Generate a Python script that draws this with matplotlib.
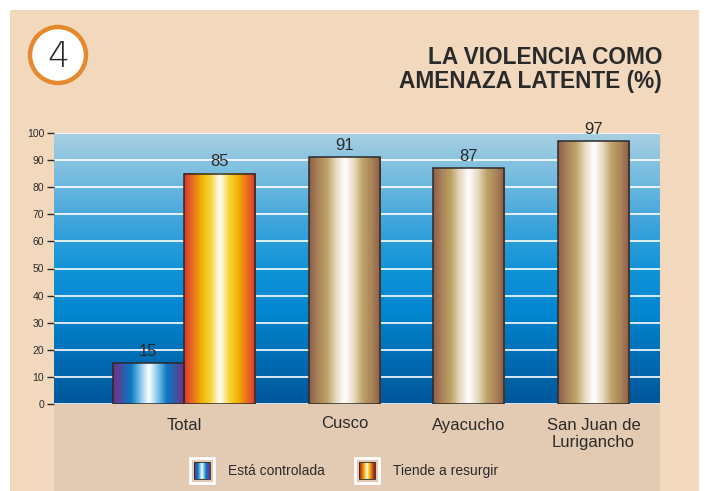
import numpy as np
import matplotlib
matplotlib.use("Agg")
import matplotlib.pyplot as plt
from matplotlib.colors import LinearSegmentedColormap
from matplotlib.patches import Rectangle, Circle

plt.rcParams["font.family"] = ["Liberation Sans", "DejaVu Sans"]

# ---- data --------------------------------------------------------------------
categories = ["Total", "Cusco", "Ayacucho", "San Juan de\nLurigancho"]
controlada = [15]                 # only for Total
resurgir = [85, 91, 87, 97]
legend_labels = ["Está controlada", "Tiende a resurgir"]
title = "LA VIOLENCIA COMO\nAMENAZA LATENTE (%)"
badge = "4"

# ---- palette -----------------------------------------------------------------
PANEL = "#f2d9be"
BAND = "#e3cbb3"
INK = "#2a2a2a"
RING = "#e5892f"

def cmap(name, cols):
    return LinearSegmentedColormap.from_list(name, cols)

BLUE_BAR = cmap("blue", ["#7b2b7e", "#3a55a4", "#0a78c2", "#7cc4ea", "#ffffff",
                         "#7cc4ea", "#0a78c2", "#3a55a4", "#7b2b7e"])
ORANGE_BAR = cmap("orange", ["#d7372f", "#e8701f", "#f2b400", "#f7d640", "#ffffff",
                             "#f7d640", "#f2b400", "#e8701f", "#d7372f"])
BROWN_BAR = cmap("brown", ["#8d5c47", "#a98459", "#bfa266", "#e6dbc2", "#ffffff",
                           "#e6dbc2", "#bfa266", "#a98459", "#8d5c47"])
ORANGE_ICON = cmap("oicon", ["#7a1a12", "#e0581c", "#f2b400", "#ffffff",
                             "#f2b400", "#e0581c", "#7a1a12"])
SKY = cmap("sky", ["#00569a", "#006db4", "#0286d0", "#1193d7", "#3ea4db",
                   "#74bbe0", "#a8cfe2"])

W, H, DPI = 705, 491, 100
fig = plt.figure(figsize=(W / DPI, H / DPI), dpi=DPI)
fig.patch.set_facecolor("white")

# pixel-coordinate backdrop (y down)
bg = fig.add_axes([0, 0, 1, 1], zorder=0)
bg.set_xlim(0, W); bg.set_ylim(H, 0); bg.axis("off")
bg.add_patch(Rectangle((10, 10), 689, H - 10, facecolor=PANEL, edgecolor="none"))
bg.add_patch(Rectangle((54, 404), 606, H - 404, facecolor=BAND, edgecolor="none"))
bg.add_patch(Circle((58, 55), 28, facecolor="white", edgecolor=RING, lw=3.2))
bg.text(58, 57, badge, ha="center", va="center", fontsize=25, color=INK,
        family="DejaVu Sans", fontweight="light")
bg.text(662, 69.5, title, ha="right", va="center", fontsize=16.3,
        fontweight="bold", color=INK, linespacing=1.08)

# ---- main plot ---------------------------------------------------------------
L, R, T, B = 54, 660, 133, 404
ax = fig.add_axes([L / W, 1 - B / H, (R - L) / W, (B - T) / H], zorder=1)

group_x = np.array([0.5, 2.76, 4.51, 6.27])
xlim = (-1.33, 7.205)

bars_c = ax.bar([group_x[0] - 0.5], controlada, width=1, facecolor="none",
                edgecolor=INK, lw=1.1, zorder=3)
res_x = np.concatenate([[group_x[0] + 0.5], group_x[1:]])
bars_r = ax.bar(res_x, resurgir, width=1, facecolor="none",
                edgecolor=INK, lw=1.1, zorder=3)

grad = np.linspace(0, 1, 256).reshape(1, -1)

def fill(bar, cm):
    x0, w, h = bar.get_x(), bar.get_width(), bar.get_height()
    ax.imshow(grad, cmap=cm, extent=(x0, x0 + w, 0, h), aspect="auto",
              interpolation="bicubic", zorder=2)

fill(bars_c[0], BLUE_BAR)
fill(bars_r[0], ORANGE_BAR)
for b in bars_r[1:]:
    fill(b, BROWN_BAR)

for b in list(bars_c) + list(bars_r):
    ax.annotate(f"{b.get_height():g}", (b.get_x() + b.get_width() / 2, b.get_height()),
                xytext=(0, 3), textcoords="offset points", ha="center", va="bottom",
                fontsize=12, color=INK, zorder=4)

# sky background
sky = np.linspace(0, 1, 256).reshape(-1, 1)
ax.imshow(sky, cmap=SKY, extent=(xlim[0], xlim[1], 0, 100), origin="lower",
          aspect="auto", zorder=0)

ax.set_xlim(*xlim)
ax.set_ylim(0, 100)
ax.set_yticks(np.arange(0, 101, 10))
ax.set_xticks(group_x)
ax.set_xticklabels(categories, fontsize=12, color=INK, linespacing=1.15)
ax.tick_params(axis="x", length=0, pad=10)
ax.tick_params(axis="y", length=5, width=1, color=INK, labelsize=7.5, labelcolor=INK, pad=2)
ax.grid(axis="y", color="white", lw=1.2)
ax.set_axisbelow(True)
for s in ax.spines.values():
    s.set_visible(False)
# Cusco label sits a touch higher in the original
ax.get_xticklabels()[1].set_y(0.008)

# ---- legend (drawn in pixel space) --------------------------------------------
icons = [(190, BLUE_BAR), (355, ORANGE_ICON)]
for (x, cm), lab in zip(icons, legend_labels):
    bg.add_patch(Rectangle((x, 458), 24, 25, facecolor=BAND, edgecolor="white", lw=2))
    bg.imshow(grad, cmap=cm, extent=(x + 4, x + 20, 479, 462), aspect="auto",
              interpolation="bicubic", zorder=3)
    bg.add_patch(Rectangle((x + 4, 462), 16, 17, facecolor="none",
                           edgecolor=INK, lw=0.6, zorder=4))
    bg.text(x + 38, 471, lab, ha="left", va="center", fontsize=10, color=INK)
bg.set_xlim(0, W); bg.set_ylim(H, 0)

fig.savefig("out.png", dpi=DPI, facecolor="white")
